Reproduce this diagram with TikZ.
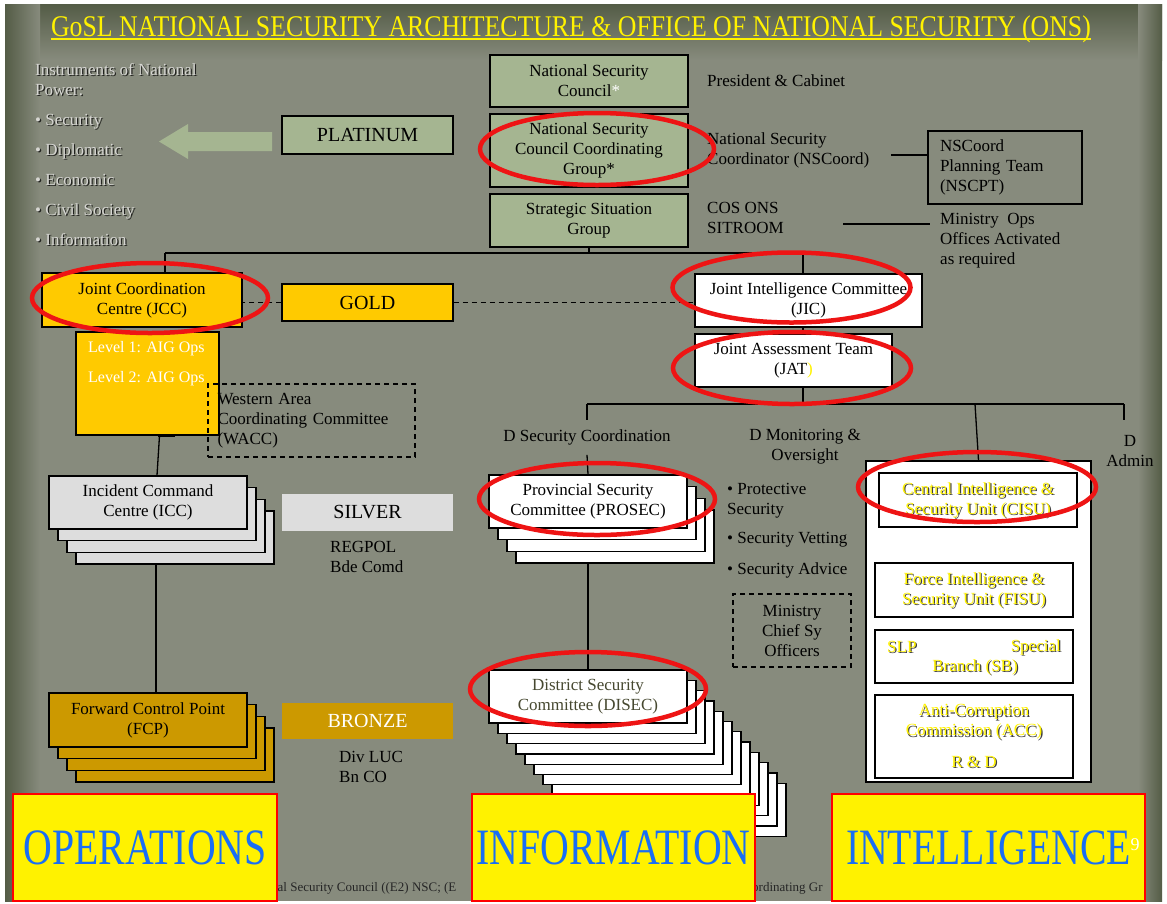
\documentclass[tikz,border=0pt]{standalone}
\usepackage{fontspec}
\setmainfont{Liberation Serif}
\newfontfamily\narrowfont[FakeStretch=0.78]{Liberation Serif}
\newfontfamily\headfont[FakeStretch=0.86]{Liberation Serif}
\usetikzlibrary{positioning,calc}

\definecolor{slate}{RGB}{135,139,125}
\definecolor{slatedark}{RGB}{84,92,70}
\definecolor{nsgreen}{RGB}{165,181,145}
\definecolor{goldbox}{RGB}{255,202,0}
\definecolor{silverbox}{RGB}{221,221,221}
\definecolor{bronzebox}{RGB}{204,153,0}
\definecolor{ringred}{RGB}{238,20,20}
\definecolor{capblue}{RGB}{25,110,245}
\definecolor{powergray}{RGB}{214,214,210}
\definecolor{disecink}{RGB}{70,72,48}

\newcommand{\txt}{\fontsize{17}{20}\selectfont}
\newcommand{\smalltxt}{\fontsize{16}{20}\selectfont}
\newcommand{\tagtxt}{\fontsize{20}{24}\selectfont}
\newcommand{\captxt}{\narrowfont\fontsize{51}{53}\selectfont}

% text with a dark drop shadow
\newcommand{\shadowed}[4]{%
  \node[#1, text=black, opacity=0.75] (#2-sh) at ($(#3)+(1.2,1.2)$) {#4};
  \node[#1] (#2) at (#3) {#4};}

\begin{document}
\begin{tikzpicture}[x=1pt, y=-1pt,
every node/.style={font=\txt, inner sep=0pt},
org/.style={rectangle, draw=black, line width=1.3pt, align=center},
nsbox/.style={org, fill=nsgreen, minimum width=198pt},
goldorg/.style={org, fill=goldbox},
stackbox/.style={org, minimum width=198pt, minimum height=53pt},
tagbox/.style={rectangle, minimum width=171pt, font=\tagtxt},
note/.style={align=left, anchor=west},
link/.style={draw=black, line width=1.3pt},
weak/.style={link, dash pattern=on 5pt off 4pt},
ring/.style={draw=ringred, line width=4.5pt},
yell/.style={text=yellow, align=center},
capbox/.style={rectangle, draw=red, line width=1.5pt, fill=yellow, minimum height=107pt, text=capblue, font=\captxt}]

\useasboundingbox (0,0) rectangle (1167,903);
\fill[white] (0,0) rectangle (1167,903);
\fill[slate] (5,4) rectangle (1162,901);
\shade[top color=slatedark, bottom color=slate] (5,4) rectangle (1162,60);
\shade[left color=slatedark, right color=slate] (5,4) rectangle (40,901);
\shade[left color=slate, right color=slatedark] (1138,4) rectangle (1162,901);

% title
\node[text=yellow, font=\headfont\fontsize{30}{32}\selectfont, anchor=base] (title) at (571,36)
  {GoSL NATIONAL SECURITY ARCHITECTURE \& OFFICE OF NATIONAL SECURITY (ONS)};
\draw[yellow, line width=2pt] ([yshift=-3pt]title.base west) -- ([yshift=-3pt]title.base east);

% instruments of power
\shadowed{text=powergray, align=left, anchor=north west}{power}{35,63.5}
  {Instruments of National\\Power:\\[10pt]\textbullet{} Security\\[10pt]\textbullet{} Diplomatic\\[10pt]%
   \textbullet{} Economic\\[10pt]\textbullet{} Civil Society\\[10pt]\textbullet{} Information}

% strategic level
\node[nsbox, minimum height=52pt] (nsc) at (589,81) {National Security\\Council\textcolor{white}{*}};
\node[nsbox, minimum height=73pt] (nsccg) at (589,150.5) {National Security\\Council Coordinating\\Group*};
\node[nsbox, minimum height=53pt] (ssg) at (589,220.5) {Strategic Situation\\Group};
\node[tagbox, draw=black, line width=1.3pt, fill=nsgreen, minimum height=38pt] (platinum) at (367.5,135) {PLATINUM};
\fill[nsgreen] (272,132) -- (188,132) -- (188,124) -- (159,141.5) -- (188,159) -- (188,151) -- (272,151) -- cycle;

\node[note] (pres) at (707,81) {President \& Cabinet};
\node[note] (nscoord) at (707,150) {National Security\\Coordinator (NSCoord)};
\node[org, align=left, minimum width=154pt, minimum height=73pt, text width=130pt] (nscpt) at (1005,167.5)
  {NSCoord\\Planning Team\\(NSCPT)};
\node[note] (cosons) at (707,218) {COS ONS\\SITROOM};
\node[note] (minops) at (940,241) {Ministry\ \ Ops\\Offices Activated\\as required};
\coordinate (nsline) at (891,155);
\coordinate (opsline) at (843,224);
\coordinate (opsend) at (930,224);
\draw[link] (nsline) -- (nsline -| nscpt.west);
\draw[link] (opsline) -- (opsend);

% bus below the strategic situation group
\coordinate (busL) at (165,253);
\coordinate (busR) at (803,253);
\draw[link] (ssg.south) -- (ssg.south |- busL);
\draw[link] (busL) -- (busR);

% operations column
\node[goldorg, minimum width=200pt, minimum height=54pt] (jcc) at (142,300) {Joint Coordination\\Centre (JCC)};
\node[goldorg, minimum width=143pt, minimum height=103pt] (lvl) at (147.5,383.5) {};
\node[text=white, align=left, anchor=north west, font=\smalltxt] (lvltxt) at (88,341.5) {Level 1: AIG Ops\\[10pt]Level 2: AIG Ops};
\draw[line width=2.5pt] ([xshift=10pt]lvl.south) -- ([xshift=27pt]lvl.south);
\node[weak, minimum width=207pt, minimum height=73pt, align=left, text width=188pt] (wacc) at (311.5,420.5)
  {Western Area\\Coordinating Committee\\(WACC)};
\node[tagbox, draw=black, line width=1.3pt, fill=goldbox, minimum height=37pt] (gold) at (367.5,302.5) {GOLD};
\draw[link] (busL) -- (busL |- jcc.north);

\foreach \k in {3,2,1}
  \node[stackbox, fill=silverbox] (icc-\k) at (148+9*\k,502.5+11.7*\k) {};
\node[stackbox, fill=silverbox] (icc) at (148,502.5) {Incident Command\\Centre (ICC)};
\draw[link] ([xshift=12pt]lvl.south) -- ([xshift=9pt]icc.north);
\node[tagbox, fill=silverbox, minimum height=37pt] (silver) at (367.5,512.5) {SILVER};
\node[note] (regpol) at (330,557) {REGPOL\\Bde Comd};

\foreach \k in {3,2,1}
  \node[stackbox, fill=bronzebox, minimum height=54pt] (fcp-\k) at (148+9*\k,720+11.7*\k) {};
\node[stackbox, fill=bronzebox, minimum height=54pt] (fcp) at (148,720) {Forward Control Point\\(FCP)};
\coordinate (iccdrop) at (156,0);
\draw[link] (icc-3.south -| iccdrop) -- (fcp.north -| iccdrop);
\node[tagbox, fill=bronzebox, text=white, minimum height=36pt] (bronze) at (367.5,721) {BRONZE};
\node[note] (divluc) at (339,767) {Div LUC\\Bn CO};

% intelligence branch
\node[org, fill=white, minimum width=227pt, minimum height=53pt] (jic) at (808.5,300.5) {Joint Intelligence Committee\\(JIC)};
\node[org, fill=white, minimum width=197pt, minimum height=53pt] (jat) at (793.5,360.5) {Joint Assessment Team\\(JAT\textcolor{yellow}{)}};
\draw[link] (busR) -- (busR |- jic.north);
\draw[link] (jic.south -| busR) -- (jat.north -| busR);
\draw[weak] (gold.west) -- (gold.west -| jcc.east);
\draw[weak] (gold.east) -- (gold.east -| jic.west);

\coordinate (bus2L) at (587,404);
\coordinate (bus2I) at (975,404);
\coordinate (bus2R) at (1124,404);
\draw[link] (jat.south -| busR) -- (busR |- bus2L);
\draw[link] (bus2L) -- (bus2R);
\draw[link] (bus2L) -- ++(0,16);
\draw[link] (bus2R) -- ++(0,16);

\node (dsec) at (587,437) {D Security Coordination};
\node[align=center] (dmon) at (805,447) {D Monitoring \&\\Oversight};
\node[align=center] (dadm) at (1130,451) {D\\Admin};

% information column
\foreach \k in {3,2,1}
  \node[stackbox, fill=white] (prosec-\k) at (588+9*\k,501.5+11.7*\k) {};
\node[stackbox, fill=white] (prosec) at (588,501.5) {Provincial Security\\Committee (PROSEC)};
\draw[link] ($(dsec.south)+(0,10)$) -- (prosec.north);

\foreach \k in {11,10,...,1}
  \node[stackbox, fill=white] (disec-\k) at (588+9*\k,696.5+10.3*\k) {};
\node[stackbox, fill=white, text=disecink] (disec) at (588,696.5) {District Security\\Committee (DISEC)};
\draw[link] (prosec-3.south -| prosec.south) -- (disec.north);

\node[note] (protect) at (727,501) {\textbullet{} Protective\\Security};
\node[note] (vetting) at (727,540) {\textbullet{} Security Vetting};
\node[note] (advice) at (727,570) {\textbullet{} Security Advice};
\node[weak, align=center, minimum width=118pt, minimum height=73pt] (chiefsy) at (792,630.5)
  {Ministry\\Chief Sy\\Officers};

% intelligence units
\node[org, fill=white, minimum width=225pt, minimum height=321pt] (intel) at (978.5,621.5) {};
\draw[link] (bus2I) -- (intel.north);
\node[stackbox, minimum height=54pt] (cisu) at (978,500) {};
\node[stackbox, minimum height=54pt] (fisu) at (974,590) {};
\node[stackbox] (sb) at (974,656.5) {};
\node[stackbox, minimum height=83pt] (acc) at (974,736.5) {};
\shadowed{yell}{cisutxt}{cisu.center}{Central Intelligence \&\\Security Unit (CISU)}
\shadowed{yell}{fisutxt}{fisu.center}{Force Intelligence \&\\Security Unit (FISU)}
\shadowed{yell, anchor=west}{slp}{887,647}{SLP}
\shadowed{yell, anchor=east}{special}{1061,647}{Special}
\shadowed{yell}{branch}{975,667}{Branch (SB)}
\shadowed{yell}{acctxt}{974,722}{Anti-Corruption\\Commission (ACC)}
\shadowed{yell}{rnd}{974,762}{R \& D}

% footer fragments
\node[anchor=west, text=black!85, font=\fontsize{13}{15}\selectfont] (foot1) at (271,888) {nal Security Council ((E2) NSC; (E};
\node[anchor=west, text=black!85, font=\fontsize{13}{15}\selectfont] (foot2) at (752,888) {ordinating Gr};

% red rings
\draw[ring] ($(jcc.center)+(8,-2)$) ellipse [x radius=118, y radius=35];
\draw[ring] ($(nsccg.center)+(8,-1.5)$) ellipse [x radius=117, y radius=36];
\draw[ring] ($(jic.center)+(-17,-13)$) ellipse [x radius=119, y radius=35];
\draw[ring] ($(jat.center)+(-1.5,7.5)$) ellipse [x radius=119, y radius=36];
\draw[ring] ($(prosec.center)+(9,-2.5)$) ellipse [x radius=118, y radius=36];
\draw[ring] ($(disec.center)+(0,-7.5)$) ellipse [x radius=118, y radius=37];
\draw[ring] ($(cisu.center)+(-1,-13)$) ellipse [x radius=119, y radius=35];

% pillars
\node[capbox, minimum width=264pt] (ops) at (145,847.5) {OPERATIONS};
\node[capbox, minimum width=283pt] (info) at (613.5,847.5) {INFORMATION};
\node[capbox, minimum width=313pt] (intl) at (988.5,847.5) {INTELLIGENCE};
\node[text=white, font=\fontsize{18}{20}\selectfont] (pageno) at (1135,845) {9};
\end{tikzpicture}
\end{document}
